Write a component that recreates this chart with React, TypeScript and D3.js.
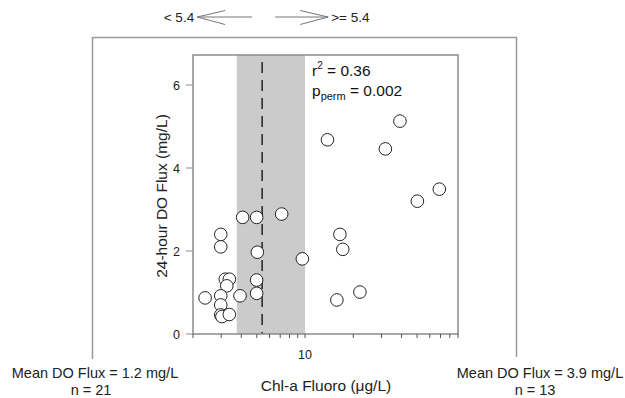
import React from "react";
import * as d3 from "d3";

const chlA: number[] = [4.08, 4.99, 7.15, 2.98, 2.98, 5.04, 9.62, 16.5, 17.2, 3.18, 3.37, 3.25, 4.99, 4.99, 3.93, 2.38, 2.98, 2.98, 2.98, 3.03, 3.37, 15.8, 22.0, 50.2, 68.8, 13.8, 39.1, 31.7];
const doFlux: number[] = [2.81, 2.81, 2.89, 2.4, 2.1, 1.97, 1.81, 2.4, 2.04, 1.32, 1.32, 1.16, 1.3, 0.98, 0.92, 0.87, 0.92, 0.7, 0.46, 0.42, 0.47, 0.82, 1.01, 3.2, 3.49, 4.68, 5.13, 4.46];
const yTicks: number[] = [0, 2, 4, 6];
const xMinorTicks: number[] = [2, 3, 4, 5, 6, 7, 8, 9, 10, 20, 30, 40, 50, 60, 70, 80, 90];
const xLabelTicks: number[] = [10];
const breakpoint = 5.4;
const bandRange: number[] = [3.75, 10];
const statsR2 = "0.36";
const statsP = "0.002";
const leftStats = { mean: "1.2", n: "21" };
const rightStats = { mean: "3.9", n: "13" };

export default function App() {
  const left = 193, right = 458, top = 55, bottom = 334;
  const x = d3.scaleLog().domain([2, 90]).range([left, right]);
  const y = d3.scaleLinear().domain([0, 6]).range([bottom, 85]);
  const font = "Arial, 'Liberation Sans', sans-serif";
  const gray = "#8a8a8a";
  const pts = chlA.map((c, i) => ({ c, f: doFlux[i] }));
  const bx = x(breakpoint);
  return (
    <svg width={625} height={398} style={{ position: "absolute", left: 0, top: 0, background: "#fff" }} fontFamily={font}>
      {/* bracket */}
      <path d="M92.5,359 V37.5 H516.5 V357" fill="none" stroke="#999" strokeWidth={1.5} />
      {/* arrows */}
      <g stroke="#777" strokeWidth={1} fill="none">
        <line x1={bx - 65} y1={17} x2={bx - 10} y2={17} />
        <polyline points={`${bx - 37},10.5 ${bx - 65},17 ${bx - 37},24.5`} />
        <line x1={bx + 13} y1={17} x2={bx + 66} y2={17} />
        <polyline points={`${bx + 38},10.5 ${bx + 66},17 ${bx + 38},24.5`} />
      </g>
      <text x={bx - 68} y={22} fontSize={13.5} textAnchor="end" fill="#222">{`< ${breakpoint}`}</text>
      <text x={bx + 69} y={22} fontSize={13.5} textAnchor="start" fill="#222">{`>= ${breakpoint}`}</text>
      {/* band */}
      <rect x={x(bandRange[0])} y={top} width={x(bandRange[1]) - x(bandRange[0])} height={bottom - top} fill="#cbcbcb" />
      {/* dashed breakpoint */}
      <line x1={bx} x2={bx} y1={top + 7} y2={bottom} stroke="#222" strokeWidth={1.5} strokeDasharray="11,7" />
      {/* frame */}
      <rect x={left} y={top} width={right - left} height={bottom - top} fill="none" stroke={gray} strokeWidth={1.5} />
      {/* y ticks */}
      {yTicks.map((t) => (
        <g key={t}>
          <line x1={left - 7} x2={left} y1={y(t)} y2={y(t)} stroke={gray} strokeWidth={1} />
          <text x={left - 13} y={y(t) + 4.5} fontSize={12.5} textAnchor="end" fill="#222">{t}</text>
        </g>
      ))}
      {/* x ticks */}
      {xMinorTicks.map((t) => (
        <line key={t} x1={x(t)} x2={x(t)} y1={bottom} y2={bottom + 4} stroke="#555" strokeWidth={1} />
      ))}
      {xLabelTicks.map((t) => (
        <text key={t} x={x(t)} y={359} fontSize={12.5} textAnchor="middle" fill="#222">{t}</text>
      ))}
      {/* points */}
      {pts.map((p, i) => (
        <circle key={i} cx={x(p.c)} cy={y(p.f)} r={6.3} fill="#fff" stroke="#222" strokeWidth={1} />
      ))}
      {/* stats */}
      <text x={312} y={76} fontSize={15.5} fill="#111">
        r<tspan dy={-7} fontSize={10}>2</tspan><tspan dy={7}>{` = ${statsR2}`}</tspan>
      </text>
      <text x={312} y={96} fontSize={15.5} fill="#111">
        p<tspan dy={4} fontSize={11}>perm</tspan><tspan dy={-4}>{` = ${statsP}`}</tspan>
      </text>
      {/* axis labels */}
      <text transform={`translate(167,196) rotate(-90)`} fontSize={15.5} textAnchor="middle" fill="#222">24-hour DO Flux (mg/L)</text>
      <text x={326} y={391} fontSize={15.5} textAnchor="middle" fill="#222">Chl-a Fluoro (μg/L)</text>
      {/* group stats */}
      <text x={95} y={378} fontSize={14.5} textAnchor="middle" fill="#222">{`Mean DO Flux = ${leftStats.mean} mg/L`}</text>
      <text x={91} y={395} fontSize={14.5} textAnchor="middle" fill="#222">{`n = ${leftStats.n}`}</text>
      <text x={540} y={378} fontSize={14.5} textAnchor="middle" fill="#222">{`Mean DO Flux = ${rightStats.mean} mg/L`}</text>
      <text x={535} y={395} fontSize={14.5} textAnchor="middle" fill="#222">{`n = ${rightStats.n}`}</text>
    </svg>
  );
}
